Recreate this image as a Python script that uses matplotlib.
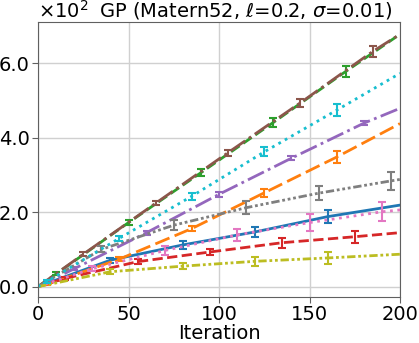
import matplotlib
matplotlib.use('Agg')
import matplotlib.pyplot as plt
from matplotlib.ticker import ScalarFormatter

# iteration of each point, mean value and error-bar half width (0 = no bar)
names = ['blue', 'orange', 'green', 'red', 'purple',
         'brown', 'pink', 'gray', 'olive', 'cyan']
x_pts = [
    [0, 40, 80, 120, 160, 200],
    [0, 5, 45, 85, 125, 165, 200],
    [0, 10, 50, 90, 130, 170, 200],
    [0, 15, 55, 95, 135, 175, 200],
    [0, 20, 60, 100, 140, 180, 200],
    [0, 25, 65, 105, 145, 185, 200],
    [0, 30, 70, 110, 150, 190, 200],
    [0, 35, 75, 115, 155, 195, 200],
    [0, 40, 80, 120, 160, 200],
    [0, 5, 45, 85, 125, 165, 200],
]
y_pts = [
    [0, 71, 112, 147, 188, 219],
    [0, 6, 74, 156, 252, 348, 438],
    [0, 34, 172, 306, 441, 578, 678],
    [0, 22, 67, 93, 118, 134, 145],
    [0, 48, 145, 248, 345, 439, 479],
    [0, 87, 224, 360, 494, 632, 678],
    [0, 48, 97, 139, 172, 201, 206],
    [0, 100, 165, 212, 251, 284, 288],
    [0, 40, 55, 68, 77, 87],
    [0, 14, 130, 243, 362, 474, 573],
]
y_err = [
    [0, 7, 10, 13, 17, 0],
    [0, 3, 5, 7, 10, 16, 0],
    [0, 4, 7, 9, 11, 16, 0],
    [0, 4, 7, 9, 13, 16, 0],
    [0, 4, 5, 6, 6, 6, 0],
    [0, 5, 6, 8, 11, 15, 0],
    [0, 7, 12, 17, 22, 25, 0],
    [0, 8, 13, 18, 19, 24, 0],
    [0, 6, 9, 12, 16, 0],
    [0, 3, 7, 9, 12, 16, 0],
]

styles = ['-', (0, (5.5, 2)), '--', '--', '-.', '-.', ':',
          (0, (3, 1, 1, 1, 1, 1, 1, 1)), (0, (3, 1, 1, 1, 1, 1)), ':']


class OneDecimal(ScalarFormatter):
    def _set_format(self):
        self.format = '%1.1f'


plt.rcParams['font.size'] = 14
fig = plt.figure(figsize=(4.19, 3.43), dpi=100)
ax = fig.add_axes([0.0907, 0.134, 0.864, 0.802])

for i, name in enumerate(names):
    c = 'tab:' + name
    ax.plot(x_pts[i], y_pts[i], color=c, linestyle=styles[i], linewidth=2)
    bx = [x for x, e in zip(x_pts[i], y_err[i]) if e > 0]
    by = [y for y, e in zip(y_pts[i], y_err[i]) if e > 0]
    be = [e for e in y_err[i] if e > 0]
    ax.errorbar(bx, by, yerr=be, fmt='none', ecolor=c, elinewidth=1.5,
                capsize=3, capthick=1.5)

ax.set_xlim(0, 200)
ax.set_ylim(-28, 711)
ax.set_xticks([0, 50, 100, 150, 200])
ax.set_yticks([0, 200, 400, 600])
fmt = OneDecimal(useMathText=True)
fmt.set_powerlimits((0, 0))
ax.yaxis.set_major_formatter(fmt)
ax.yaxis.get_offset_text().set_fontsize(14)
ax.grid(True, color='#d0d0d0', linewidth=1)
for s in ax.spines.values():
    s.set_color('#606060')
ax.tick_params(color='#606060', length=4, pad=2)
ax.set_xlabel('Iteration', labelpad=0)
ax.set_title('GP (Matern52, $\\ell$=0.2, $\\sigma$=0.01)', loc='right',
             x=0.98, pad=4, fontsize=14)

fig.savefig('out.png', dpi=100)
